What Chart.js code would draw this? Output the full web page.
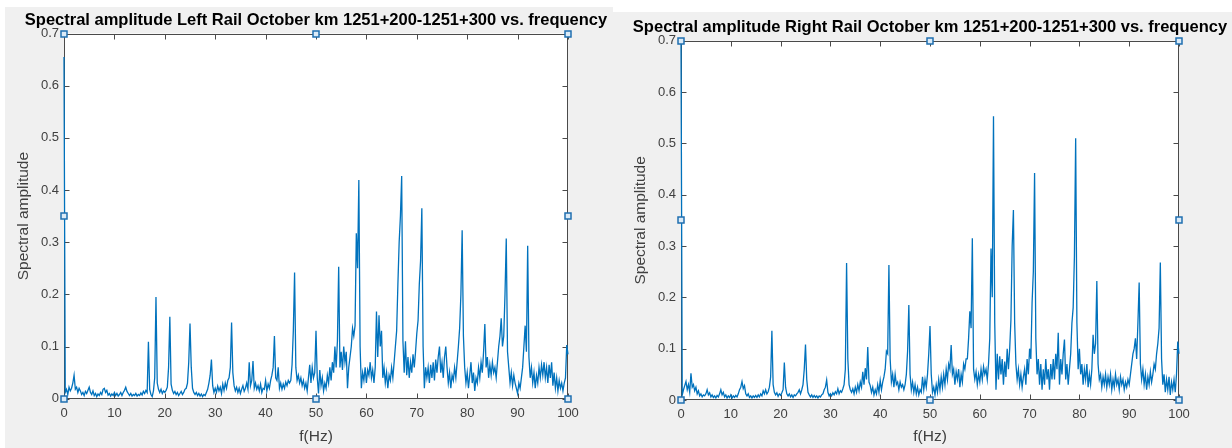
<!DOCTYPE html>
<html><head><meta charset="utf-8">
<script src="https://cdn.jsdelivr.net/npm/chart.js@4.4.1/dist/chart.umd.min.js"></script>
<style>
html,body{margin:0;padding:0;background:#fff;width:1232px;height:448px;overflow:hidden;position:relative}
.panel{position:absolute;background:#f0f0f0}
canvas{position:absolute}
</style></head><body>
<div class="panel" style="left:5px;top:7px;width:608px;height:441px"></div>
<div class="panel" style="left:613px;top:12px;width:619px;height:436px"></div>
<canvas id="cL" width="622" height="448" style="left:5px;top:0"></canvas>
<canvas id="cR" width="634" height="448" style="left:613px;top:0"></canvas>
<script>
const FREQ_START = 0;
const FREQ_STEP = 0.25;
const X_TICKS = [0,10,20,30,40,50,60,70,80,90,100];
const Y_TICKS = [0,0.1,0.2,0.3,0.4,0.5,0.6,0.7];
const TITLE_LEFT = 'Spectral amplitude Left Rail October km 1251+200-1251+300 vs. frequency';
const TITLE_RIGHT = 'Spectral amplitude Right Rail October km 1251+200-1251+300 vs. frequency';
const X_LABEL = 'f(Hz)';
const Y_LABEL = 'Spectral amplitude';

const LEFT_AMP = [
0.655,0.012,0.018,0.008,0.022,0.015,0.02,0.03,0.045,0.018,0.022,0.012,0.02,0.015,0.008,0.012,0.006,0.014,0.01,0.016,
0.022,0.012,0.008,0.015,0.006,0.01,0.004,0.009,0.006,0.012,0.008,0.018,0.02,0.012,0.016,0.007,0.01,0.005,0.009,0.006,
0.012,0.006,0.01,0.005,0.008,0.012,0.006,0.012,0.016,0.022,0.014,0.01,0.006,0.01,0.005,0.008,0.006,0.01,0.005,0.008,
0.006,0.011,0.007,0.014,0.01,0.016,0.012,0.109,0.018,0.008,0.004,0.015,0.04,0.195,0.03,0.018,0.012,0.018,0.01,0.015,
0.012,0.016,0.022,0.06,0.157,0.028,0.016,0.01,0.014,0.008,0.012,0.006,0.01,0.014,0.008,0.012,0.018,0.02,0.03,0.07,
0.144,0.06,0.02,0.012,0.008,0.012,0.006,0.01,0.005,0.009,0.004,0.008,0.006,0.012,0.018,0.03,0.045,0.075,0.025,0.012,
0.02,0.012,0.024,0.015,0.022,0.01,0.028,0.016,0.03,0.02,0.035,0.04,0.06,0.146,0.05,0.025,0.015,0.022,0.012,0.02,
0.01,0.018,0.025,0.014,0.02,0.03,0.018,0.07,0.025,0.035,0.072,0.02,0.03,0.018,0.025,0.015,0.028,0.012,0.02,0.018,
0.035,0.015,0.028,0.02,0.035,0.045,0.06,0.12,0.04,0.035,0.06,0.02,0.03,0.018,0.028,0.02,0.032,0.025,0.035,0.03,
0.035,0.065,0.13,0.242,0.06,0.035,0.045,0.03,0.04,0.025,0.035,0.02,0.03,0.015,0.04,0.065,0.03,0.06,0.04,0.05,
0.13,0.04,0.01,0.055,0.025,0.04,0.015,0.03,0.02,0.045,0.03,0.06,0.035,0.07,0.05,0.1,0.06,0.11,0.253,0.06,
0.09,0.055,0.1,0.07,0.09,0.02,0.06,0.08,0.1,0.135,0.12,0.14,0.317,0.25,0.419,0.1,0.02,0.05,0.035,0.06,
0.03,0.055,0.045,0.07,0.04,0.055,0.03,0.06,0.167,0.08,0.16,0.1,0.13,0.04,0.06,0.03,0.05,0.02,0.045,0.035,
0.06,0.04,0.07,0.1,0.13,0.22,0.3,0.35,0.427,0.11,0.05,0.11,0.045,0.08,0.04,0.07,0.05,0.085,0.06,0.09,
0.125,0.15,0.22,0.265,0.365,0.1,0.02,0.06,0.04,0.06,0.03,0.065,0.04,0.07,0.035,0.075,0.05,0.08,0.1,0.05,
0.07,0.04,0.08,0.1,0.06,0.03,0.05,0.02,0.045,0.035,0.06,0.04,0.07,0.1,0.135,0.2,0.323,0.12,0.06,0.03,
0.05,0.02,0.045,0.07,0.03,0.05,0.015,0.04,0.03,0.06,0.04,0.07,0.05,0.09,0.143,0.06,0.08,0.04,0.065,0.045,
0.07,0.05,0.06,0.04,0.07,0.1,0.12,0.154,0.1,0.12,0.2,0.307,0.09,0.06,0.03,0.05,0.025,0.045,0.03,0.02,
0.01,0.03,0.02,0.04,0.06,0.1,0.14,0.09,0.293,0.08,0.04,0.06,0.03,0.05,0.02,0.045,0.03,0.06,0.04,0.065,
0.045,0.07,0.04,0.06,0.03,0.065,0.04,0.07,0.025,0.05,0.02,0.04,0.015,0.035,0.02,0.03,0.015,0.03,0.04,0.103,
0.085
];

const RIGHT_AMP = [
0.7,0.01,0.02,0.028,0.036,0.02,0.03,0.015,0.052,0.025,0.03,0.018,0.025,0.012,0.018,0.008,0.012,0.006,0.01,0.008,
0.012,0.02,0.01,0.014,0.006,0.01,0.005,0.008,0.004,0.009,0.006,0.012,0.02,0.01,0.015,0.006,0.01,0.004,0.008,0.005,
0.01,0.004,0.008,0.005,0.009,0.006,0.012,0.02,0.025,0.036,0.022,0.028,0.012,0.008,0.012,0.005,0.008,0.004,0.008,0.005,
0.009,0.005,0.01,0.006,0.012,0.008,0.018,0.012,0.02,0.012,0.016,0.025,0.045,0.135,0.03,0.015,0.01,0.014,0.007,0.012,
0.009,0.014,0.02,0.073,0.025,0.012,0.008,0.012,0.006,0.01,0.005,0.01,0.008,0.012,0.015,0.02,0.012,0.02,0.03,0.06,
0.108,0.04,0.015,0.01,0.006,0.01,0.005,0.009,0.005,0.008,0.004,0.008,0.006,0.01,0.012,0.02,0.025,0.039,0.015,0.008,
0.012,0.008,0.014,0.01,0.016,0.012,0.022,0.012,0.018,0.015,0.022,0.03,0.06,0.267,0.08,0.03,0.02,0.015,0.022,0.012,
0.025,0.015,0.03,0.018,0.035,0.025,0.055,0.03,0.062,0.04,0.103,0.035,0.028,0.015,0.025,0.01,0.02,0.012,0.03,0.015,
0.038,0.02,0.035,0.045,0.06,0.095,0.09,0.263,0.08,0.035,0.05,0.025,0.05,0.03,0.035,0.02,0.035,0.025,0.03,0.02,
0.03,0.05,0.095,0.185,0.05,0.02,0.035,0.015,0.03,0.012,0.025,0.01,0.02,0.015,0.045,0.02,0.04,0.025,0.05,0.09,
0.144,0.05,0.015,0.025,0.01,0.03,0.015,0.04,0.02,0.045,0.025,0.05,0.03,0.06,0.04,0.07,0.06,0.107,0.05,0.06,
0.03,0.055,0.04,0.06,0.025,0.05,0.035,0.07,0.06,0.08,0.08,0.12,0.173,0.14,0.315,0.06,0.04,0.055,0.03,0.05,
0.035,0.06,0.04,0.065,0.05,0.06,0.04,0.07,0.12,0.295,0.2,0.553,0.15,0.02,0.09,0.04,0.085,0.05,0.08,0.03,
0.075,0.045,0.1,0.06,0.1,0.156,0.3,0.37,0.15,0.07,0.04,0.06,0.03,0.05,0.025,0.045,0.06,0.03,0.08,0.05,
0.1,0.08,0.19,0.25,0.442,0.12,0.05,0.08,0.03,0.07,0.02,0.06,0.03,0.08,0.04,0.06,0.02,0.07,0.04,0.08,
0.04,0.09,0.06,0.131,0.03,0.08,0.05,0.09,0.118,0.04,0.07,0.03,0.06,0.09,0.15,0.18,0.28,0.51,0.15,0.06,
0.1,0.05,0.07,0.03,0.06,0.04,0.07,0.025,0.05,0.03,0.06,0.127,0.09,0.11,0.232,0.07,0.04,0.05,0.025,0.045,
0.03,0.05,0.025,0.045,0.03,0.05,0.02,0.04,0.025,0.05,0.03,0.04,0.02,0.045,0.03,0.04,0.02,0.035,0.025,0.04,
0.03,0.05,0.07,0.09,0.1,0.12,0.08,0.15,0.229,0.07,0.04,0.06,0.03,0.05,0.02,0.045,0.03,0.055,0.035,0.05,
0.07,0.06,0.09,0.11,0.14,0.268,0.08,0.03,0.05,0.015,0.04,0.02,0.045,0.01,0.035,0.02,0.04,0.015,0.05,0.114,
0.09
];

const FONT = "'Liberation Sans', Arial, sans-serif";
const LINE_COLOR = '#0072BD';
const TEXT_COLOR = '#404040';

function toPoints(amps) {
  return amps.map((a, i) => ({ x: FREQ_START + i * FREQ_STEP, y: a }));
}

const matlabAxes = {
  id: 'matlabAxes',
  beforeDraw(chart) {
    const { ctx, chartArea: a } = chart;
    ctx.save();
    ctx.fillStyle = '#ffffff';
    ctx.fillRect(a.left, a.top, a.right - a.left, a.bottom - a.top);
    ctx.restore();
  },
  beforeDatasetsDraw(chart) {
    const { ctx, chartArea: a, scales: { x, y } } = chart;
    const L = Math.round(a.left) + 0.5, R = Math.round(a.right) - 0.5;
    const T = Math.round(a.top) + 0.5, B = Math.round(a.bottom) - 0.5;
    ctx.save();
    ctx.strokeStyle = '#4a4a4a';
    ctx.lineWidth = 1;
    ctx.strokeRect(L, T, R - L, B - T);
    ctx.beginPath();
    x.ticks.forEach(t => {
      const px = Math.round(x.getPixelForValue(t.value)) + 0.5;
      ctx.moveTo(px, B); ctx.lineTo(px, B - 5);
      ctx.moveTo(px, T); ctx.lineTo(px, T + 5);
    });
    y.ticks.forEach(t => {
      const py = Math.round(y.getPixelForValue(t.value)) + 0.5;
      ctx.moveTo(L, py); ctx.lineTo(L + 5, py);
      ctx.moveTo(R, py); ctx.lineTo(R - 5, py);
    });
    ctx.stroke();
    ctx.restore();
  },
  afterDraw(chart) {
    const { ctx, scales: { x, y } } = chart;
    const xs = [x.min, (x.min + x.max) / 2, x.max];
    const ys = [y.max, (y.min + y.max) / 2, y.min];
    ctx.save();
    ctx.lineWidth = 1.5;
    ctx.strokeStyle = '#1f6fb0';
    ctx.fillStyle = '#dcebf7';
    xs.forEach((xv, i) => ys.forEach((yv, j) => {
      if (i === 1 && j === 1) return;
      const px = Math.round(x.getPixelForValue(xv));
      const py = Math.round(y.getPixelForValue(yv));
      ctx.fillRect(px - 3, py - 3, 6, 6);
      ctx.strokeRect(px - 3, py - 3, 6, 6);
    }));
    ctx.restore();
  }
};

function makeChart(id, title, amps, g) {
  return new Chart(document.getElementById(id), {
    type: 'line',
    data: { datasets: [{ data: toPoints(amps), borderColor: LINE_COLOR, borderWidth: 1.3, pointRadius: 0, tension: 0, clip: 2 }] },
    options: {
      responsive: false, animation: false, devicePixelRatio: 1,
      layout: { padding: 0 },
      plugins: {
        legend: { display: false }, tooltip: { enabled: false },
        title: { display: true, text: title, color: '#000', font: { family: FONT, size: 16.5, weight: 'bold' }, padding: { top: g.tTop, bottom: g.tBot } }
      },
      scales: {
        x: {
          type: 'linear', min: 0, max: 100,
          afterBuildTicks: s => { s.ticks = X_TICKS.map(v => ({ value: v })); },
          afterFit: s => { s.height = g.xH; },
          grid: { display: false, drawTicks: false }, border: { display: false },
          ticks: { color: TEXT_COLOR, font: { family: FONT, size: 13 }, padding: g.xTickPad, maxRotation: 0, autoSkip: false, callback: v => String(v) },
          title: { display: true, text: X_LABEL, color: TEXT_COLOR, font: { family: FONT, size: 15.5 }, padding: { top: 0, bottom: g.xTitlePad } }
        },
        y: {
          type: 'linear', min: 0, max: 0.7,
          afterBuildTicks: s => { s.ticks = Y_TICKS.map(v => ({ value: v })); },
          afterFit: s => { s.width = g.yW; },
          grid: { display: false, drawTicks: false }, border: { display: false },
          ticks: { color: TEXT_COLOR, font: { family: FONT, size: 13 }, padding: g.yTickPad, autoSkip: false, callback: v => String(v) },
          title: { display: true, text: Y_LABEL, color: TEXT_COLOR, font: { family: FONT, size: 15.5 }, padding: { top: g.yTitlePad, bottom: 0 } }
        },
        yRight: {
          type: 'linear', position: 'right', min: 0, max: 0.7,
          afterFit: s => { s.width = g.yW; },
          grid: { display: false, drawTicks: false }, border: { display: false },
          ticks: { display: false }
        }
      }
    },
    plugins: [matlabAxes]
  });
}

makeChart('cL', TITLE_LEFT, LEFT_AMP, { yW: 59, xH: 49.3, tTop: 10.1, tBot: 3.6, yTickPad: 5, xTickPad: 7, yTitlePad: 9.5, xTitlePad: 2 });
makeChart('cR', TITLE_RIGHT, RIGHT_AMP, { yW: 68, xH: 48, tTop: 17.1, tBot: 3.8, yTickPad: 5, xTickPad: 7, yTitlePad: 18.5, xTitlePad: 1.5 });
</script>
</body></html>
